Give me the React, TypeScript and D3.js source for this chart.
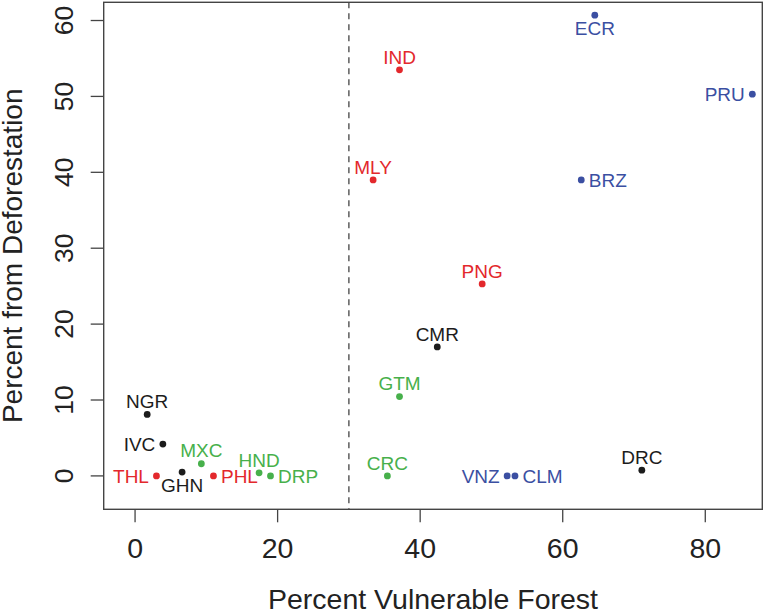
import React from "react";
import * as d3 from "d3";

const countries = ["NGR","IVC","THL","GHN","MXC","PHL","HND","DRP","CRC","GTM","CMR","PNG","MLY","IND","ECR","PRU","BRZ","VNZ","CLM","DRC"];
const vulnerable = [1.7,3.9,3.0,6.6,9.3,11.0,17.4,19.0,35.4,37.1,42.4,48.7,33.4,37.1,64.5,86.6,62.6,52.2,53.3,71.1];
const deforestation = [8.1,4.2,0.0,0.5,1.6,0.0,0.4,0.0,0.0,10.45,17.0,25.3,39.0,53.5,60.7,50.3,39.0,0.0,0.0,0.75];
const groups = ["k","k","r","k","g","r","g","g","g","g","k","r","r","r","b","b","b","b","b","k"];
const labelPos = ["above","left","left","below","above","right","above","right","above","above","above","above","above","above","below","left","right","left","right","above"];
const xTicks = [0,20,40,60,80];
const yTicks = [0,10,20,30,40,50,60];
const threshold = 30;

const colors: Record<string,string> = { k: "#1c1c1c", r: "#e3282c", g: "#47b04b", b: "#3b4fa2" };

export default function App() {
  const left = 103.7, right = 762.3, top = 2.3, bottom = 509.3;
  const x = d3.scaleLinear().domain([-4.4, 88]).range([left, right]);
  const y = d3.scaleLinear().domain([-4.4, 62.4]).range([bottom, top]);
  const font = "'Liberation Sans', Arial, Helvetica, sans-serif";
  const axisColor = "#444";
  return (
    <svg width={768} height={611} style={{ position: "absolute", left: 0, top: 0, background: "#fff" }} fontFamily={font}>
      <rect x={left} y={top} width={right - left} height={bottom - top} fill="none" stroke={axisColor} strokeWidth={1.4} />
      <line x1={x(threshold)} x2={x(threshold)} y1={top} y2={bottom} stroke={axisColor} strokeWidth={1.3} strokeDasharray="6,5" />
      {xTicks.map((t) => (
        <g key={"x" + t}>
          <line x1={x(t)} x2={x(t)} y1={bottom} y2={bottom + 13} stroke={axisColor} strokeWidth={1.3} />
          <text x={x(t)} y={558.3} textAnchor="middle" fontSize={28.5} fill="#222">{t}</text>
        </g>
      ))}
      {yTicks.map((t) => (
        <g key={"y" + t}>
          <line x1={left} x2={left - 13} y1={y(t)} y2={y(t)} stroke={axisColor} strokeWidth={1.3} />
          <text transform={`translate(73,${y(t)}) rotate(-90)`} textAnchor="middle" fontSize={26.5} fill="#222">{t}</text>
        </g>
      ))}
      <text x={(left + right) / 2} y={608.5} textAnchor="middle" fontSize={28.5} fill="#222">Percent Vulnerable Forest</text>
      <text transform={`translate(22,${(top + bottom) / 2}) rotate(-90)`} textAnchor="middle" fontSize={28} fill="#222">Percent from Deforestation</text>
      {countries.map((c, i) => {
        const cx = x(vulnerable[i]);
        const cy = y(deforestation[i]);
        const col = colors[groups[i]];
        const p = labelPos[i];
        let tx = cx, ty = cy, anchor = "middle";
        if (p === "above") { ty = cy - 6.3; }
        else if (p === "below") { ty = cy + 19.8; }
        else if (p === "left") { tx = cx - 7.5; ty = cy + 6.8; anchor = "end"; }
        else { tx = cx + 7.5; ty = cy + 6.8; anchor = "start"; }
        return (
          <g key={c}>
            <circle cx={cx} cy={cy} r={3.4} fill={col} />
            <text x={tx} y={ty} textAnchor={anchor} fontSize={19} fill={col}>{c}</text>
          </g>
        );
      })}
    </svg>
  );
}
